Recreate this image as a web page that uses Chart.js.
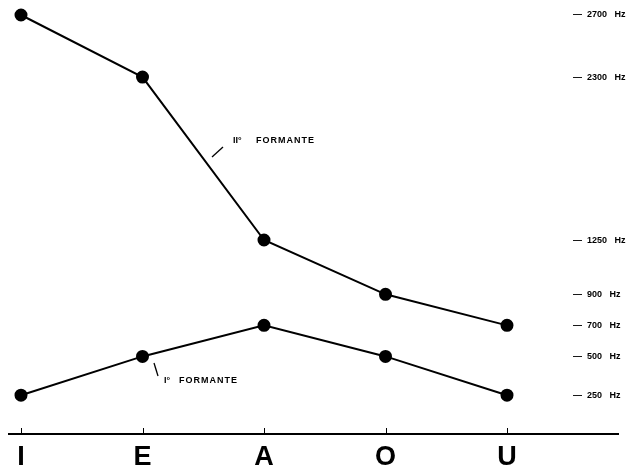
<!DOCTYPE html>
<html>
<head>
<meta charset="utf-8">
<script src="https://cdn.jsdelivr.net/npm/chart.js@4"></script>
<style>
  html, body { margin: 0; padding: 0; background: #fff; }
  #wrap { width: 634px; height: 468px; }
</style>
</head>
<body>
<div id="wrap"><canvas id="c" width="634" height="468"></canvas></div>
<script>
const vowels = ['I', 'E', 'A', 'O', 'U'];
const formant2 = [2700, 2300, 1250, 900, 700];
const formant1 = [250, 500, 700, 500, 250];
const freqTicks = [250, 500, 700, 900, 1250, 2300, 2700];
const seriesOrdinals = ['II°', 'I°'];
const seriesName = 'FORMANTE';

const ink = '#000';

const decor = {
  id: 'decor',
  afterDraw(chart) {
    const ctx = chart.ctx;
    const ca = chart.chartArea;
    const xs = chart.scales.x;
    ctx.save();
    // long baseline
    ctx.strokeStyle = ink;
    ctx.lineWidth = 2;
    ctx.beginPath();
    ctx.moveTo(8, ca.bottom);
    ctx.lineTo(619, ca.bottom);
    ctx.stroke();
    // small tick marks above baseline
    ctx.lineWidth = 1;
    vowels.forEach((v, i) => {
      const px = Math.round(xs.getPixelForTick(i)) + 0.5;
      ctx.beginPath();
      ctx.moveTo(px, ca.bottom - 6);
      ctx.lineTo(px, ca.bottom);
      ctx.stroke();
    });
    // annotations
    ctx.fillStyle = ink;
    ctx.textBaseline = 'middle';
    ctx.textAlign = 'left';
    const label = (ord, x1, x2, y) => {
      ctx.font = 'bold 9px "Liberation Sans", Arial, sans-serif';
      ctx.letterSpacing = '0px';
      ctx.fillText(ord, x1, y);
      ctx.letterSpacing = '1px';
      ctx.fillText(seriesName, x2, y);
      ctx.letterSpacing = '0px';
    };
    label(seriesOrdinals[0], 233, 256, 141);
    label(seriesOrdinals[1], 164, 179, 381);
    ctx.lineWidth = 1.3;
    ctx.beginPath();
    ctx.moveTo(223, 147);
    ctx.lineTo(212, 157);
    ctx.stroke();
    ctx.beginPath();
    ctx.moveTo(154, 363);
    ctx.lineTo(158, 376);
    ctx.stroke();
    ctx.restore();
  }
};

new Chart(document.getElementById('c'), {
  type: 'line',
  data: {
    labels: vowels,
    datasets: [
      {
        label: seriesOrdinals[0] + ' ' + seriesName,
        data: formant2,
        borderColor: ink,
        backgroundColor: ink,
        borderWidth: 2,
        pointRadius: 5.5,
        pointBackgroundColor: ink,
        pointBorderColor: ink,
        tension: 0,
        clip: false
      },
      {
        label: seriesOrdinals[1] + ' ' + seriesName,
        data: formant1,
        borderColor: ink,
        backgroundColor: ink,
        borderWidth: 2,
        pointRadius: 5.5,
        pointBackgroundColor: ink,
        pointBorderColor: ink,
        tension: 0,
        clip: false
      }
    ]
  },
  options: {
    responsive: false,
    animation: false,
    devicePixelRatio: 1,
    layout: { padding: { left: 21, top: 15, right: 0, bottom: 0 } },
    plugins: {
      legend: { display: false },
      tooltip: { enabled: false }
    },
    scales: {
      x: {
        type: 'category',
        offset: false,
        grid: { display: false },
        border: { display: false },
        afterFit(scale) { scale.height = 34; scale.paddingLeft = 0; scale.paddingRight = 0; },
        ticks: {
          color: ink,
          padding: 2,
          maxRotation: 0,
          font: { family: '"Liberation Sans", Arial, sans-serif', size: 27, weight: 'bold', lineHeight: 1 }
        }
      },
      y: {
        type: 'linear',
        position: 'right',
        min: 0,
        max: 2700,
        grid: { display: false, drawTicks: false },
        border: { display: false },
        afterBuildTicks(scale) { scale.ticks = freqTicks.map(v => ({ value: v })); },
        afterFit(scale) { scale.width = 127; scale.paddingTop = 0; scale.paddingBottom = 0; },
        ticks: {
          color: ink,
          padding: 66,
          font: { family: '"Liberation Sans", Arial, sans-serif', size: 9, weight: 'bold' },
          callback: (v) => '\u2014  ' + v + '   Hz'
        }
      }
    }
  },
  plugins: [decor]
});
</script>
</body>
</html>
